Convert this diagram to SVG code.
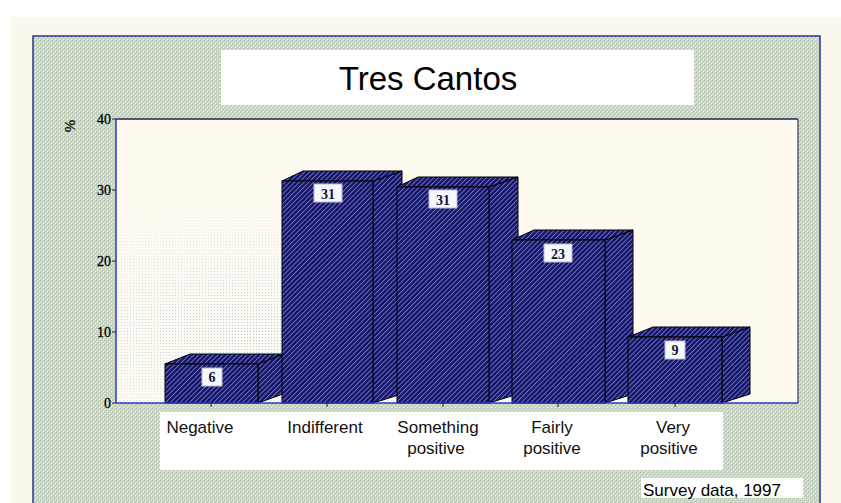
<svg xmlns="http://www.w3.org/2000/svg" width="841" height="503" viewBox="0 0 841 503">
<style>
.bar{fill:url(#hatch);stroke:#000;stroke-width:1}
.side{fill:url(#hatch);stroke:#000;stroke-width:1}
.vbox{fill:#f6f7fb;stroke:#b8bccc;stroke-width:1}
.vtxt{font-family:"Liberation Serif",serif;font-weight:bold;font-size:14px;fill:#141440;text-anchor:middle}
.cat{font-family:"Liberation Sans",Arial,sans-serif;font-size:17px;fill:#111;text-anchor:middle}
.tick{font-family:"Liberation Serif",serif;font-size:14px;fill:#000;stroke:#000;stroke-width:0.3;text-anchor:end}
</style>
<defs>
<pattern id="hatch" width="3.4" height="3.4" patternUnits="userSpaceOnUse" patternTransform="rotate(45)">
<rect width="3.4" height="3.4" fill="#15156e"/>
<rect x="0" y="0" width="0.9" height="3.4" fill="#7478b0"/>
</pattern>
<pattern id="grain" width="4" height="4" patternUnits="userSpaceOnUse">
<rect width="4" height="4" fill="#d4ddd0"/>
<rect x="0" y="0" width="1" height="1" fill="#b2c0ae"/>
<rect x="2" y="0" width="1" height="1" fill="#c0ccbb"/>
<rect x="1" y="1" width="1" height="1" fill="#e8ede4"/>
<rect x="3" y="1" width="1" height="1" fill="#b6c4b2"/>
<rect x="0" y="2" width="1" height="1" fill="#c4cfc0"/>
<rect x="2" y="2" width="1" height="1" fill="#b2c0ae"/>
<rect x="1" y="3" width="1" height="1" fill="#b8c6b4"/>
<rect x="3" y="3" width="1" height="1" fill="#eef2ea"/>
</pattern>
<pattern id="specks" width="3" height="3" patternUnits="userSpaceOnUse">
<rect x="1" y="1" width="1" height="1" fill="#9cc2f0"/>
</pattern>
<radialGradient id="fade" cx="0.2" cy="0.75" r="0.5">
<stop offset="0" stop-color="#fff" stop-opacity="0.9"/>
<stop offset="1" stop-color="#fff" stop-opacity="0"/>
</radialGradient>
<mask id="speckMask">
<rect x="116" y="119" width="682" height="284" fill="url(#fade)"/>
</mask>
</defs>

<rect width="841" height="503" fill="#ffffff"/>
<rect x="11" y="17" width="830" height="486" fill="#fdf8ee"/>

<g id="frame">
<rect x="33" y="36" width="787" height="470" fill="url(#grain)" stroke="#2a30a0" stroke-width="1.5"/>
</g>

<g id="title">
<rect x="221" y="50" width="473" height="55" fill="#ffffff"/>
<text x="428" y="90" font-family="Liberation Sans, Arial, sans-serif" font-size="33" fill="#000" text-anchor="middle">Tres Cantos</text>
</g>

<g id="plot">
<rect x="116" y="119" width="682" height="284" fill="#fffaf0"/>
<rect x="116" y="119" width="682" height="284" fill="url(#specks)" mask="url(#speckMask)"/>
<line x1="116" y1="119" x2="798" y2="119" stroke="#22224a" stroke-width="1.5"/>
<line x1="798" y1="119" x2="798" y2="403" stroke="#555a70" stroke-width="1.5"/>
<line x1="116" y1="119" x2="116" y2="403" stroke="#2c34c8" stroke-width="1.5"/>
</g>

<g id="axis">
<line x1="112" y1="119" x2="116" y2="119" stroke="#222"/>
<line x1="112" y1="190" x2="116" y2="190" stroke="#222"/>
<line x1="112" y1="261" x2="116" y2="261" stroke="#222"/>
<line x1="112" y1="332" x2="116" y2="332" stroke="#222"/>
<line x1="112" y1="403" x2="116" y2="403" stroke="#222"/>
<text class="tick" x="111" y="124">40</text>
<text class="tick" x="111" y="195">30</text>
<text class="tick" x="111" y="266">20</text>
<text class="tick" x="111" y="337">10</text>
<text class="tick" x="111" y="408">0</text>
<text x="0" y="0" transform="translate(75,126) rotate(-90)" font-family="Liberation Serif, serif" font-size="15" fill="#111" stroke="#111" stroke-width="0.3" text-anchor="middle">%</text>
</g>

<g id="bar-negative">
<polygon class="side" points="258,364 283,354 283,394 258,403"/>
<polygon class="side" points="165,364 190,354 283,354 258,364"/>
<rect class="bar" x="165" y="364" width="93" height="39"/>
<rect class="vbox" x="202" y="368" width="20" height="18"/>
<text class="vtxt" x="212" y="382">6</text>
</g>

<g id="bar-indifferent">
<polygon class="side" points="373,181 402,171 402,394 373,403"/>
<polygon class="side" points="282,181 303,171 402,171 373,181"/>
<rect class="bar" x="282" y="181" width="91" height="222"/>
<rect class="vbox" x="314" y="184" width="28" height="18"/>
<text class="vtxt" x="328" y="199">31</text>
</g>

<g id="bar-something">
<polygon class="side" points="489,187 518,177 518,394 489,403"/>
<polygon class="side" points="397,187 418,177 518,177 489,187"/>
<rect class="bar" x="397" y="187" width="92" height="216"/>
<rect class="vbox" x="429" y="190" width="28" height="18"/>
<text class="vtxt" x="443" y="205">31</text>
</g>

<g id="bar-fairly">
<polygon class="side" points="605,240 633,230 633,394 605,403"/>
<polygon class="side" points="512,240 534,230 633,230 605,240"/>
<rect class="bar" x="512" y="240" width="93" height="163"/>
<rect class="vbox" x="544" y="244" width="28" height="18"/>
<text class="vtxt" x="558" y="259">23</text>
</g>

<g id="bar-very">
<polygon class="side" points="722,337 750,327 750,394 722,403"/>
<polygon class="side" points="628,337 653,327 750,327 722,337"/>
<rect class="bar" x="628" y="337" width="94" height="66"/>
<rect class="vbox" x="665" y="341" width="20" height="18"/>
<text class="vtxt" x="675" y="355">9</text>
</g>

<g id="connectors">
<line x1="116" y1="403" x2="798" y2="403" stroke="#2c34c8" stroke-width="1.5"/>
<line x1="211" y1="403" x2="211" y2="407" stroke="#222"/>
<line x1="327" y1="403" x2="327" y2="407" stroke="#222"/>
<line x1="443" y1="403" x2="443" y2="407" stroke="#222"/>
<line x1="558" y1="403" x2="558" y2="407" stroke="#222"/>
<line x1="675" y1="403" x2="675" y2="407" stroke="#222"/>
</g>

<g id="categories">
<rect x="160" y="412" width="563" height="58" fill="#ffffff"/>
<text class="cat" x="200" y="433">Negative</text>
<text class="cat" x="325" y="433">Indifferent</text>
<text class="cat" x="438" y="433">Something</text>
<text class="cat" x="436" y="454">positive</text>
<text class="cat" x="552" y="433">Fairly</text>
<text class="cat" x="552" y="454">positive</text>
<text class="cat" x="673" y="433">Very</text>
<text class="cat" x="669" y="454">positive</text>
</g>

<g id="source">
<rect x="641" y="478" width="162" height="20" fill="#ffffff"/>
<text x="643" y="496" font-family="Liberation Sans, Arial, sans-serif" font-size="17" fill="#000">Survey data, 1997</text>
</g>
</svg>
